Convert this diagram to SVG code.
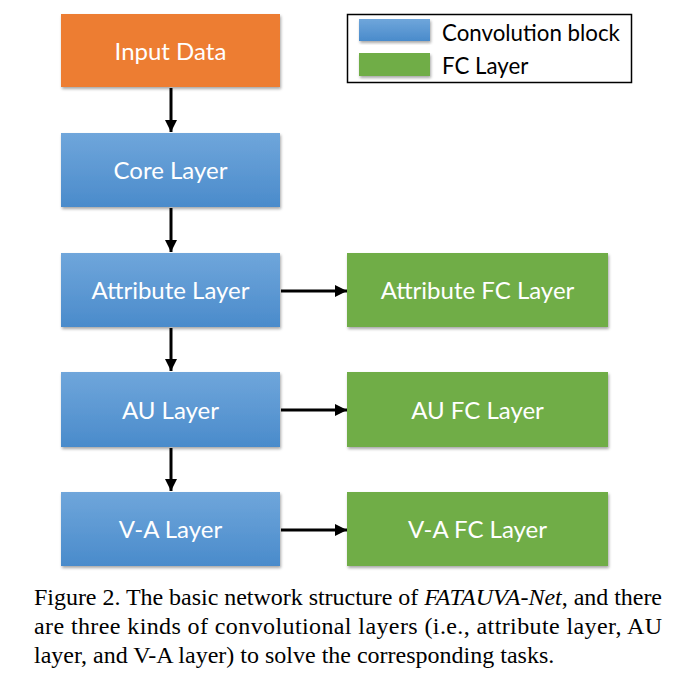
<svg xmlns="http://www.w3.org/2000/svg" width="675" height="676" viewBox="0 0 675 676">
<style>
.lbl{font-family:Lato,"Open Sans",sans-serif;font-size:24px;fill:#fff;text-anchor:middle}
.leg{font-family:Lato,"Open Sans",sans-serif;font-size:22.3px;fill:#000}
.cap{font-family:"Liberation Serif","Times New Roman",serif;font-size:24px;fill:#000}
.conn{stroke:#000;stroke-width:3;fill:none}
</style>
<defs>
<linearGradient id="blue" x1="0" y1="0" x2="0" y2="1">
<stop offset="0" stop-color="#6FA6DB"/>
<stop offset="1" stop-color="#4A8BCB"/>
</linearGradient>
<filter id="sh" x="-5%" y="-5%" width="112%" height="120%">
<feGaussianBlur in="SourceAlpha" stdDeviation="1.5"/>
<feOffset dx="1" dy="2" result="b"/>
<feComponentTransfer><feFuncA type="linear" slope="0.35"/></feComponentTransfer>
<feMerge><feMergeNode/><feMergeNode in="SourceGraphic"/></feMerge>
</filter>
<marker id="ah" viewBox="0 0 10 10" refX="10" refY="5" markerWidth="4" markerHeight="4" markerUnits="strokeWidth" orient="auto">
<path d="M0,0 L10,5 L0,10 z" fill="#000"/>
</marker>
</defs>
<rect width="675" height="676" fill="#fff"/>
<g id="connectors">
<line class="conn" x1="171" y1="88" x2="171" y2="132" marker-end="url(#ah)"/>
<line class="conn" x1="171" y1="208" x2="171" y2="252" marker-end="url(#ah)"/>
<line class="conn" x1="171" y1="328" x2="171" y2="371" marker-end="url(#ah)"/>
<line class="conn" x1="171" y1="448" x2="171" y2="491" marker-end="url(#ah)"/>
<line class="conn" x1="281" y1="291" x2="347" y2="291" marker-end="url(#ah)"/>
<line class="conn" x1="281" y1="410" x2="347" y2="410" marker-end="url(#ah)"/>
<line class="conn" x1="281" y1="530" x2="347" y2="530" marker-end="url(#ah)"/>
</g>
<g id="input">
<rect x="61" y="14" width="219" height="73" fill="#ED7D31" filter="url(#sh)"/>
<text class="lbl" x="170.5" y="59.5">Input Data</text>
</g>
<g id="core">
<rect x="61" y="133" width="219" height="74" fill="url(#blue)" filter="url(#sh)"/>
<text class="lbl" x="170.5" y="179">Core Layer</text>
</g>
<g id="attribute">
<rect x="61" y="253" width="219" height="74" fill="url(#blue)" filter="url(#sh)"/>
<text class="lbl" x="170.5" y="299">Attribute Layer</text>
</g>
<g id="au">
<rect x="61" y="372" width="219" height="75" fill="url(#blue)" filter="url(#sh)"/>
<text class="lbl" x="170.5" y="418.5">AU Layer</text>
</g>
<g id="va">
<rect x="61" y="492" width="219" height="74" fill="url(#blue)" filter="url(#sh)"/>
<text class="lbl" x="170.5" y="538">V-A Layer</text>
</g>
<g id="attribute-fc">
<rect x="347" y="253" width="261" height="74" fill="#70AD47" filter="url(#sh)"/>
<text class="lbl" x="477.5" y="299">Attribute FC Layer</text>
</g>
<g id="au-fc">
<rect x="347" y="372" width="261" height="75" fill="#70AD47" filter="url(#sh)"/>
<text class="lbl" x="477.5" y="418.5">AU FC Layer</text>
</g>
<g id="va-fc">
<rect x="347" y="492" width="261" height="74" fill="#70AD47" filter="url(#sh)"/>
<text class="lbl" x="477.5" y="538">V-A FC Layer</text>
</g>
<g id="legend">
<rect x="347.5" y="14.5" width="284" height="68" fill="#fff" stroke="#000" stroke-width="1.5"/>
<rect x="359" y="19" width="71" height="22" fill="url(#blue)" filter="url(#sh)"/>
<rect x="359" y="53" width="71" height="23" fill="#70AD47" filter="url(#sh)"/>
<text class="leg" x="442" y="41">Convolution block</text>
<text class="leg" x="442" y="74">FC Layer</text>
</g>
<g id="caption">
<text class="cap" x="34" y="605" textLength="628" lengthAdjust="spacing">Figure 2. The basic network structure of <tspan font-style="italic">FATAUVA-Net</tspan>, and there</text>
<text class="cap" x="34" y="634" textLength="628" lengthAdjust="spacing">are three kinds of convolutional layers (i.e., attribute layer, AU</text>
<text class="cap" x="34" y="663">layer, and V-A layer) to solve the corresponding tasks.</text>
</g>
</svg>
